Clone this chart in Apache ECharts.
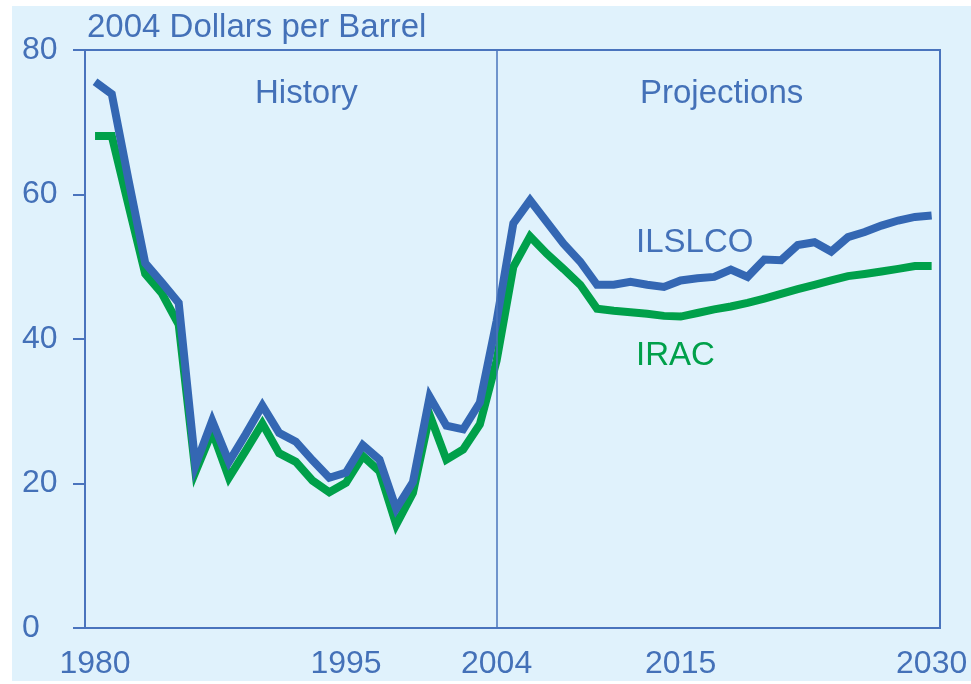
<!DOCTYPE html>
<html><head><meta charset="utf-8">
<script src="https://cdn.jsdelivr.net/npm/echarts@6/dist/echarts.min.js"></script>
<style>html,body{margin:0;padding:0;background:#fff}#c{width:971px;height:684px}</style>
</head><body><div id="c"></div>
<script>
const years = [1980,1981,1982,1983,1984,1985,1986,1987,1988,1989,
  1990,1991,1992,1993,1994,1995,1996,1997,1998,1999,
  2000,2001,2002,2003,2004,2005,2006,2007,2008,2009,
  2010,2011,2012,2013,2014,2015,2016,2017,2018,2019,
  2020,2021,2022,2023,2024,2025,2026,2027,2028,2029,2030];
const ilslco = [75.6,73.9,62.0,50.5,47.8,45.0,22.5,28.7,23.0,26.8,
  30.8,27.0,25.8,23.2,20.8,21.5,25.3,23.3,16.5,20.2,
  32.0,28.0,27.5,31.2,42.5,56.0,59.2,56.2,53.2,50.7,
  47.5,47.5,47.9,47.5,47.2,48.1,48.4,48.6,49.6,48.6,
  51.0,50.9,53.0,53.4,52.1,54.1,54.8,55.7,56.4,56.9,57.1];
const irac = [68.1,68.1,58.5,49.0,46.3,42.0,21.6,27.2,20.8,24.5,
  28.3,24.2,23.0,20.4,18.8,20.1,23.8,21.7,14.3,18.7,
  29.5,23.3,24.7,28.2,37.0,50.0,54.2,51.8,49.7,47.5,
  44.2,43.9,43.7,43.5,43.2,43.1,43.6,44.1,44.5,45.0,
  45.6,46.25,46.9,47.5,48.1,48.7,49.0,49.35,49.7,50.1,50.1];
const xTickLabels = [1980,1995,2004,2015,2030];
const dividerYear = 2004;
const yTitle = '2004 Dollars per Barrel';

const axisColor = '#4a74bd';
const textColor = '#4471b8';
const font = "'Liberation Sans', Arial, sans-serif";
const pair = (xs, ys) => xs.map((x, i) => [x, ys[i]]);

const chart = echarts.init(document.getElementById('c'));
chart.setOption({
  animation: false,
  backgroundColor: '#ffffff',
  grid: {left: 85, right: 31, top: 50, bottom: 56, show: true,
    borderColor: axisColor, borderWidth: 2, backgroundColor: 'transparent'},
  xAxis: {
    type: 'value', min: 1979.4, max: 2030.5,
    axisLine: {show: true, lineStyle: {color: axisColor, width: 2}},
    axisTick: {show: false},
    splitLine: {show: false},
    axisLabel: {customValues: xTickLabels, color: textColor, fontSize: 32,
      fontFamily: font, margin: 20, formatter: v => String(v)}
  },
  yAxis: {
    type: 'value', min: 0, max: 80, interval: 20,
    axisLine: {show: true, lineStyle: {color: axisColor, width: 2}},
    axisTick: {show: true, inside: false, length: 12, lineStyle: {color: axisColor, width: 2}},
    splitLine: {show: false},
    axisLabel: {color: textColor, fontSize: 32, fontFamily: font, align: 'left', margin: 63}
  },
  graphic: [
    {type: 'rect', z: -10, shape: {x: 12, y: 6, width: 959, height: 675}, style: {fill: '#e0f2fc'}},
    {type: 'text', x: 87, y: 28, style: {text: yTitle, fill: textColor, font: '33px ' + font, textAlign: 'left', textVerticalAlign: 'middle'}},
    {type: 'text', x: 255, y: 94, style: {text: 'History', fill: textColor, font: '33px ' + font, textAlign: 'left', textVerticalAlign: 'middle'}},
    {type: 'text', x: 640, y: 94, style: {text: 'Projections', fill: textColor, font: '33px ' + font, textAlign: 'left', textVerticalAlign: 'middle'}},
    {type: 'text', x: 636, y: 243, style: {text: 'ILSLCO', fill: textColor, font: '33px ' + font, textAlign: 'left', textVerticalAlign: 'middle'}},
    {type: 'text', x: 636, y: 356, style: {text: 'IRAC', fill: '#00a04a', font: '33px ' + font, textAlign: 'left', textVerticalAlign: 'middle'}}
  ],
  series: [
    {name: 'IRAC', type: 'line', data: pair(years, irac), symbol: 'none',
      lineStyle: {color: '#00a04a', width: 8, join: 'miter', cap: 'butt'}, z: 2},
    {name: 'ILSLCO', type: 'line', data: pair(years, ilslco), symbol: 'none',
      lineStyle: {color: '#3467b3', width: 8, join: 'miter', cap: 'butt'}, z: 3,
      markLine: {silent: true, symbol: 'none', label: {show: false},
        lineStyle: {color: axisColor, width: 1.5, type: 'solid'},
        data: [{xAxis: dividerYear}]}}
  ]
});
</script></body></html>
